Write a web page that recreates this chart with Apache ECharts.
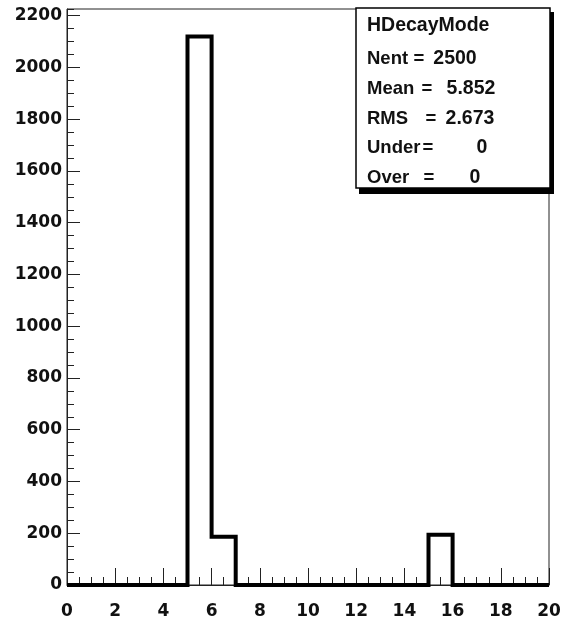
<!DOCTYPE html>
<html>
<head>
<meta charset="utf-8">
<script src="https://cdn.jsdelivr.net/npm/echarts@6/dist/echarts.min.js"></script>
<style>html,body{margin:0;padding:0;background:#fff;}#c{width:570px;height:627px;}</style>
</head>
<body>
<div id="c"></div>
<script>
// Histogram HDecayMode: 20 bins of width 1 from 0 to 20
var binEdgesMin = 0;
var binWidth = 1;
var binCounts = [0, 0, 0, 0, 0, 2120, 186, 0, 0, 0, 0, 0, 0, 0, 0, 194, 0, 0, 0, 0];
var xTicks = [0, 2, 4, 6, 8, 10, 12, 14, 16, 18, 20];
var yTicks = [0, 200, 400, 600, 800, 1000, 1200, 1400, 1600, 1800, 2000, 2200];
var statsTitle = 'HDecayMode';
var statsLabels = ['Nent', 'Mean', 'RMS', 'Under', 'Over'];
var statsValues = ['2500', '5.852', '2.673', '0', '0'];

var yMax = Math.max.apply(null, binCounts) * 1.05;

var pts = [];
for (var i = 0; i < binCounts.length; i++) {
  var lo = binEdgesMin + i * binWidth;
  pts.push([lo, binCounts[i]]);
  pts.push([lo + binWidth, binCounts[i]]);
}

var font = 'DejaVu Sans';
var chart = echarts.init(document.getElementById('c'), null, {renderer: 'canvas'});

var rowY = [59, 88.5, 118.5, 148, 178];
var eqX = [419, 427, 431, 428, 429];
var valCenter = [455, 471, 470, 482, 475];
var txtStyle = {fontFamily: 'Liberation Sans', fontWeight: 'bold', fontSize: 18.5, fill: '#111'};
var gEls = [
  {type: 'rect', shape: {x: 359, y: 12, width: 195, height: 182}, style: {fill: '#000'}, z: 100},
  {type: 'rect', shape: {x: 356, y: 8, width: 194, height: 180}, style: {fill: '#fff', stroke: '#000', lineWidth: 1.5}, z: 101},
  {type: 'text', x: 367, y: 26, style: Object.assign({text: statsTitle, textVerticalAlign: 'middle', textAlign: 'left'}, txtStyle, {fontSize: 19.5}), z: 102}
];
for (var k = 0; k < statsLabels.length; k++) {
  gEls.push({type: 'text', x: 367, y: rowY[k], style: Object.assign({text: statsLabels[k], textVerticalAlign: 'middle', textAlign: 'left'}, txtStyle), z: 102});
  gEls.push({type: 'text', x: eqX[k], y: rowY[k], style: Object.assign({text: '=', textVerticalAlign: 'middle', textAlign: 'center'}, txtStyle), z: 102});
  gEls.push({type: 'text', x: valCenter[k], y: rowY[k], style: Object.assign({text: statsValues[k], textVerticalAlign: 'middle', textAlign: 'center'}, txtStyle, {fontSize: 19.5}), z: 102});
}

var labelStyle = {fontFamily: font, fontWeight: 'bold', fontSize: 17, color: '#111'};
var option = {
  animation: false,
  backgroundColor: '#fff',
  grid: {left: 67, top: 9, width: 482, height: 576, show: true, borderColor: '#222', borderWidth: 1, backgroundColor: 'transparent'},
  xAxis: {
    type: 'value', min: xTicks[0], max: xTicks[xTicks.length - 1], interval: xTicks[1] - xTicks[0],
    axisLine: {show: true, onZero: false, lineStyle: {color: '#222', width: 1}},
    axisTick: {show: true, inside: true, length: 17, lineStyle: {color: '#222', width: 1}},
    minorTick: {show: true, splitNumber: 4, length: 8, lineStyle: {color: '#222', width: 1}},
    splitLine: {show: false},
    axisLabel: Object.assign({margin: 18, formatter: function (v) { return String(v); }}, labelStyle)
  },
  yAxis: [{
    type: 'value', min: yTicks[0], max: yMax, interval: yTicks[1] - yTicks[0],
    axisLine: {show: true, lineStyle: {color: '#222', width: 1}},
    axisTick: {show: true, inside: true, length: 13, lineStyle: {color: '#222', width: 1}},
    splitLine: {show: false},
    axisLabel: Object.assign({margin: 5, showMaxLabel: false, formatter: function (v) { return String(v); }}, labelStyle)
  }, {
    type: 'value', position: 'left', min: yTicks[0], max: yMax, interval: (yTicks[1] - yTicks[0]) / 4,
    axisLine: {show: false},
    axisTick: {show: true, inside: true, length: 7, lineStyle: {color: '#222', width: 1}},
    splitLine: {show: false},
    axisLabel: {show: false}
  }],
  series: [{
    type: 'line', data: pts, yAxisIndex: 0, showSymbol: false, symbol: 'none', clip: false,
    lineStyle: {color: '#000', width: 4, join: 'miter'}, z: 5, silent: true
  }],
  graphic: {elements: gEls}
};
chart.setOption(option);
</script>
</body>
</html>
